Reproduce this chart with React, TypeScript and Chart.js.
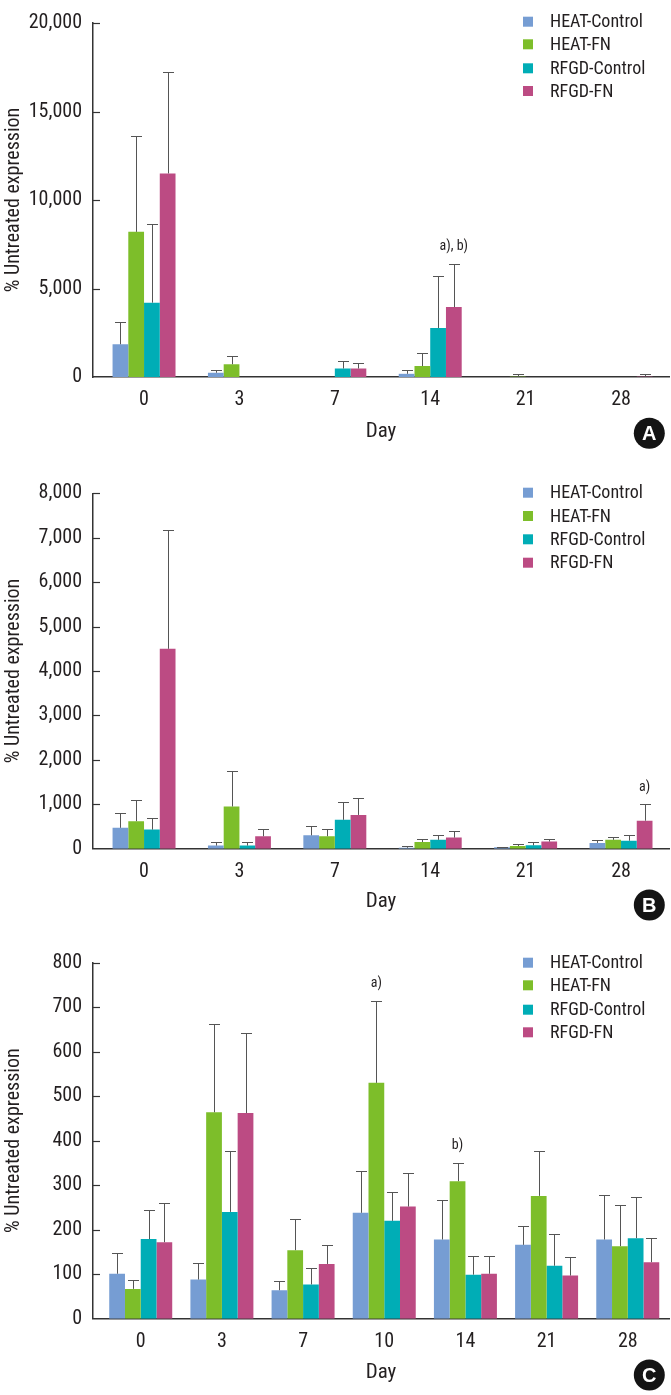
import React, { useEffect, useRef } from 'react';
import { Chart, registerables } from 'chart.js';

Chart.register(...registerables);

const FONT = '"Liberation Sans Narrow", "Roboto Condensed", "DejaVu Sans Condensed", "Noto Sans", sans-serif';
const TEXT = '#231f20';

const SERIES = ['HEAT-Control', 'HEAT-FN', 'RFGD-Control', 'RFGD-FN'];
const COLORS = ['#769DD3', '#7DBE2A', '#00ADB6', '#BC4B83'];

const daysAB = ['0', '3', '7', '14', '21', '28'];
const daysC = ['0', '3', '7', '10', '14', '21', '28'];

// Panel A (mean, SD)
const heatControlA = [1850, 240, 0, 180, 0, 0];
const heatFnA = [8200, 720, 0, 620, 20, 0];
const rfgdControlA = [4200, 0, 480, 2770, 0, 0];
const rfgdFnA = [11500, 0, 480, 3950, 0, 20];
const heatControlASd = [1230, 160, 0, 200, 0, 0];
const heatFnASd = [5400, 460, 0, 710, 140, 0];
const rfgdControlASd = [4450, 0, 400, 2930, 0, 0];
const rfgdFnASd = [5750, 0, 330, 2450, 0, 130];

// Panel B
const heatControlB = [470, 70, 300, 20, 30, 130];
const heatFnB = [620, 950, 280, 150, 60, 200];
const rfgdControlB = [430, 70, 650, 200, 75, 180];
const rfgdFnB = [4500, 280, 760, 250, 160, 630];
const heatControlBSd = [330, 80, 200, 30, 15, 70];
const heatFnBSd = [480, 800, 170, 75, 50, 70];
const rfgdControlBSd = [260, 90, 390, 110, 85, 130];
const rfgdFnBSd = [2680, 170, 370, 150, 65, 370];

// Panel C
const heatControlC = [101, 88, 64, 238, 178, 166, 178];
const heatFnC = [67, 464, 154, 530, 309, 276, 163];
const rfgdControlC = [179, 240, 77, 220, 99, 119, 181];
const rfgdFnC = [172, 462, 123, 252, 101, 97, 127];
const heatControlCSd = [46, 38, 20, 94, 88, 42, 101];
const heatFnCSd = [21, 199, 69, 184, 42, 101, 93];
const rfgdControlCSd = [65, 137, 37, 64, 42, 71, 92];
const rfgdFnCSd = [88, 179, 42, 75, 40, 42, 55];

type Note = { ds: number; idx: number; text: string };
type PanelSpec = {
  top: number;
  height: number;
  areaTop: number;
  areaBottom: number;
  labels: string[];
  values: number[][];
  errors: number[][];
  xMin: number;
  xMax: number;
  yMax: number;
  yStep: number;
  catPct: number;
  legendY: number[];
  badgeY: number;
  letter: string;
  titlePad: number;
  notes: Note[];
};

const PANELS: PanelSpec[] = [
  {
    top: 0, height: 462, areaTop: 13.5, areaBottom: 377,
    labels: daysAB,
    values: [heatControlA, heatFnA, rfgdControlA, rfgdFnA],
    errors: [heatControlASd, heatFnASd, rfgdControlASd, rfgdFnASd],
    xMin: -0.535, xMax: 5.503,
    yMax: 20000, yStep: 5000, catPct: 0.66,
    legendY: [21.7, 44.3, 68.3, 91], badgeY: 433.3, letter: 'A', titlePad: 18,
    notes: [{ ds: 3, idx: 3, text: 'a), b)' }],
  },
  {
    top: 462, height: 463, areaTop: 31.3, areaBottom: 386.7,
    labels: daysAB,
    values: [heatControlB, heatFnB, rfgdControlB, rfgdFnB],
    errors: [heatControlBSd, heatFnBSd, rfgdControlBSd, rfgdFnBSd],
    xMin: -0.535, xMax: 5.503,
    yMax: 8000, yStep: 1000, catPct: 0.66,
    legendY: [30.7, 54, 77.3, 100.7], badgeY: 443, letter: 'B', titlePad: 10.7,
    notes: [{ ds: 3, idx: 5, text: 'a)' }],
  },
  {
    top: 925, height: 470, areaTop: 37.7, areaBottom: 393.7,
    labels: daysC,
    values: [heatControlC, heatFnC, rfgdControlC, rfgdFnC],
    errors: [heatControlCSd, heatFnCSd, rfgdControlCSd, rfgdFnCSd],
    xMin: -0.588, xMax: 6.508,
    yMax: 800, yStep: 100, catPct: 0.776,
    legendY: [37.7, 60.3, 84.7, 107.3], badgeY: 450, letter: 'C', titlePad: 9.7,
    notes: [
      { ds: 1, idx: 3, text: 'a)' },
      { ds: 1, idx: 4, text: 'b)' },
    ],
  },
];

function makePlugin(spec: PanelSpec) {
  return {
    id: 'panelExtras',
    afterDatasetsDraw(chart: any) {
      const ctx = chart.ctx;
      const ys = chart.scales.y;
      ctx.save();
      ctx.strokeStyle = '#555555';
      ctx.lineWidth = 1;
      chart.data.datasets.forEach((ds: any, i: number) => {
        const meta = chart.getDatasetMeta(i);
        meta.data.forEach((el: any, j: number) => {
          const sd = ds.errors[j];
          if (!sd) return;
          const v = ds.data[j].y;
          const yt = Math.round(ys.getPixelForValue(v + sd)) + 0.5;
          const x = Math.round(el.x) + 0.5;
          ctx.beginPath();
          ctx.moveTo(x, el.y);
          ctx.lineTo(x, yt);
          ctx.moveTo(x - 5.5, yt);
          ctx.lineTo(x + 5.5, yt);
          ctx.stroke();
        });
      });
      // significance notes
      ctx.fillStyle = TEXT;
      ctx.font = `14px ${FONT}`;
      ctx.textAlign = 'center';
      ctx.textBaseline = 'middle';
      spec.notes.forEach((n) => {
        const ds = chart.data.datasets[n.ds];
        const el = chart.getDatasetMeta(n.ds).data[n.idx];
        const yt = ys.getPixelForValue(ds.data[n.idx].y + ds.errors[n.idx]);
        ctx.fillText(n.text, el.x, yt - 17);
      });
      ctx.restore();
    },
    afterDraw(chart: any) {
      const ctx = chart.ctx;
      const ys = chart.scales.y;
      const area = chart.chartArea;
      ctx.save();
      // inward tick marks on y axis
      ctx.strokeStyle = '#333333';
      ctx.lineWidth = 1.2;
      ys.ticks.forEach((t: any) => {
        if (t.value === 0) return;
        const py = Math.round(ys.getPixelForValue(t.value)) + 0.5;
        ctx.beginPath();
        ctx.moveTo(area.left, py);
        ctx.lineTo(area.left + 7, py);
        ctx.stroke();
      });
      // legend
      ctx.font = `18px ${FONT}`;
      ctx.textAlign = 'left';
      ctx.textBaseline = 'middle';
      chart.data.datasets.forEach((ds: any, i: number) => {
        const cy = spec.legendY[i];
        ctx.fillStyle = ds.backgroundColor;
        ctx.fillRect(523, cy - 5, 10, 10);
        ctx.fillStyle = TEXT;
        ctx.fillText(ds.label, 550, cy + 1);
      });
      // panel badge
      ctx.fillStyle = '#141414';
      ctx.beginPath();
      ctx.arc(649.3, spec.badgeY, 15.5, 0, Math.PI * 2);
      ctx.fill();
      ctx.fillStyle = '#ffffff';
      ctx.font = 'bold 20px "Liberation Sans", Arial, sans-serif';
      ctx.textAlign = 'center';
      ctx.textBaseline = 'middle';
      ctx.fillText(spec.letter, 649.3, spec.badgeY + 1);
      ctx.restore();
    },
  };
}

function Panel({ spec }: { spec: PanelSpec }) {
  const ref = useRef<HTMLCanvasElement | null>(null);
  useEffect(() => {
    if (!ref.current) return;
    const chart = new Chart(ref.current, {
      type: 'bar',
      data: {
        datasets: SERIES.map((name, i) => ({
          label: name,
          data: spec.values[i].map((v, j) => ({ x: j, y: v })),
          errors: spec.errors[i],
          backgroundColor: COLORS[i],
          borderWidth: 0,
          barPercentage: 1,
          categoryPercentage: spec.catPct,
        })) as any,
      },
      options: {
        animation: false,
        responsive: false,
        devicePixelRatio: 1,
        layout: { padding: { top: spec.areaTop, right: 2, bottom: 0, left: 0 } },
        plugins: { legend: { display: false }, tooltip: { enabled: false } },
        scales: {
          x: {
            type: 'linear',
            min: spec.xMin,
            max: spec.xMax,
            offset: false,
            grid: { display: false, drawTicks: false },
            border: { display: true, color: '#333333', width: 1.5 },
            ticks: {
              color: TEXT, font: { family: FONT, size: 20 }, padding: 11,
              stepSize: 1, includeBounds: false, autoSkip: false, maxRotation: 0,
              callback: (v: any) => {
                const k = Math.round(Number(v));
                return Math.abs(k - Number(v)) < 1e-6 && spec.labels[k] !== undefined ? spec.labels[k] : '';
              },
            },
            afterBuildTicks: (s: any) => {
              s.ticks = spec.labels.map((_, k) => ({ value: k }));
            },
            title: {
              display: true, text: 'Day', color: TEXT,
              font: { family: FONT, size: 21 },
              padding: { top: 0, bottom: spec.titlePad },
            },
            afterFit: (s: any) => { s.height = spec.height - spec.areaBottom; },
          },
          y: {
            min: 0, max: spec.yMax,
            grid: { display: false, drawTicks: false },
            border: { display: true, color: '#333333', width: 1.5 },
            ticks: {
              stepSize: spec.yStep, color: TEXT, padding: 11,
              font: { family: FONT, size: 20 },
              callback: (v: any) => Number(v).toLocaleString('en-US'),
            },
            title: {
              display: true, text: '% Untreated expression', color: TEXT,
              font: { family: FONT, size: 20 },
              padding: { top: 2, bottom: 0 },
            },
            afterFit: (s: any) => { s.width = 93; },
          },
        },
      },
      plugins: [makePlugin(spec)],
    } as any);
    return () => chart.destroy();
  }, [spec]);
  return (
    <canvas
      ref={ref}
      width={671}
      height={spec.height}
      style={{ position: 'absolute', left: 0, top: spec.top, width: 671, height: spec.height, display: 'block' }}
    />
  );
}

export default function App() {
  return (
    <div style={{ position: 'absolute', left: 0, top: 0, width: 671, height: 1395, background: '#ffffff' }}>
      {PANELS.map((p, i) => (
        <Panel key={i} spec={p} />
      ))}
    </div>
  );
}
